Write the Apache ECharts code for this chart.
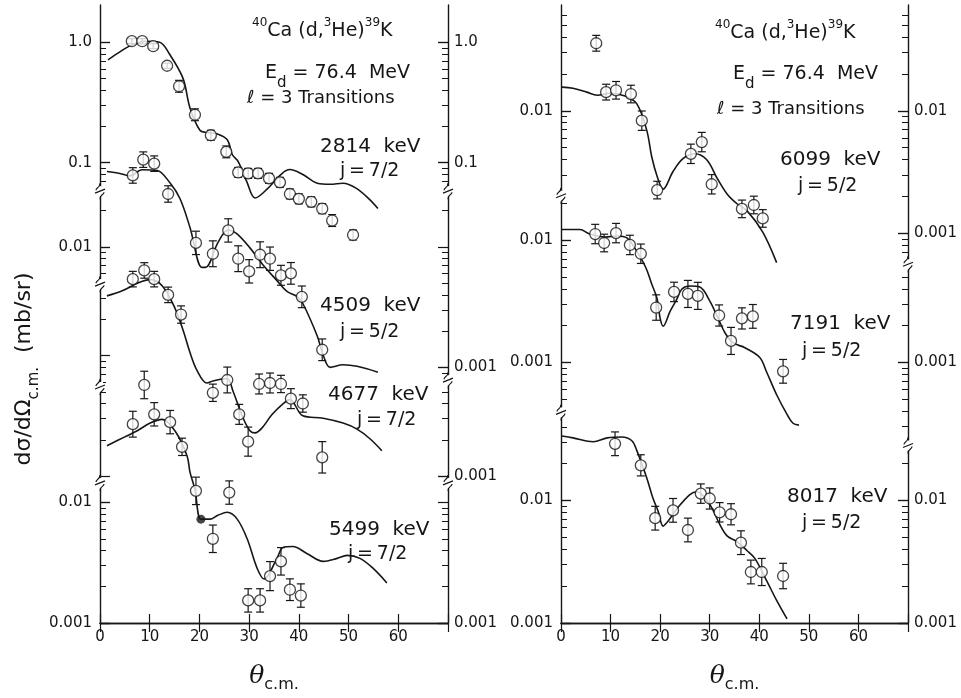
<!DOCTYPE html>
<html>
<head>
<meta charset="utf-8">
<script src="https://cdn.jsdelivr.net/npm/echarts@6.0.0/dist/echarts.min.js"></script>
<style>
html,body{margin:0;padding:0;background:#ffffff;}
#chart{width:961px;height:698px;}
</style>
</head>
<body>
<div id="chart"></div>
<script>
// ================= DATA =================
// 40Ca(d,3He)39K, Ed = 76.4 MeV, l = 3 transitions. Angles in degrees (c.m.), cross sections in mb/sr.
// --- 2814 keV, j=7/2 ---
const angA = [6.4,8.5,10.7,13.5,15.9,19.1,22.3,25.4,27.8,29.8,31.8,34.0,36.2,38.2,40.0,42.5,44.7,46.7,50.9];
const valA = [1.02,1.02,0.927,0.638,0.431,0.250,0.169,0.123,0.0830,0.0815,0.0815,0.0741,0.0687,0.0550,0.0501,0.0473,0.0415,0.0331,0.0251];
const errA = [0.05,0.05,0.05,0.05,0.12,0.12,0.10,0.12,0.10,0.10,0.10,0.10,0.10,0.10,0.10,0.10,0.10,0.12,0.10];
const thA  = [1.6,4.0,6.0,9.0,12.0,14.0,16.7,18.1,20.1,21.5,23.5,25.6,26.6,27.8,29.5,31.2,33.6,36.6,38.2,40.8,43.7,46.3,48.9,51.5,54.1,55.9];
const dwA  = [0.714,0.832,0.933,1.02,1.0,0.794,0.501,0.285,0.186,0.178,0.174,0.155,0.117,0.102,0.070,0.0509,0.0603,0.0813,0.0877,0.0798,0.0675,0.0662,0.0675,0.0615,0.0501,0.0417];
// --- 4509 keV, j=5/2 ---
const angB = [6.6,8.7,10.9,13.7,19.3,22.7,25.8,27.8,30.0,32.2,34.2,36.4,38.4,40.6,44.7];
const valB = [0.0392,0.0530,0.0491,0.0275,0.0108,0.00877,0.0137,0.00798,0.00627,0.00861,0.00798,0.00581,0.00603,0.00385,0.00140];
const errB = [0.16,0.16,0.16,0.17,0.25,0.28,0.25,0.28,0.25,0.28,0.25,0.21,0.23,0.23,0.23];
const thB  = [1.4,4.0,6.0,8.5,11.5,14.1,16.1,18.1,20.5,21.2,23.8,25.8,27.5,30.2,32.8,35.6,37.6,39.6,40.8,43.7,44.9,46.3,48.9,51.7,55.9];
const dwB  = [0.0423,0.0407,0.0389,0.0437,0.0431,0.0339,0.0251,0.0145,0.00676,0.00676,0.0110,0.0138,0.0129,0.00977,0.00708,0.00525,0.00427,0.00389,0.00339,0.00182,0.00126,0.00100,0.00105,0.00102,0.000912];
// --- 4677 keV, j=7/2 ---
const angC = [6.6,8.9,10.9,13.7,16.3,22.7,25.6,28.0,29.8,32.0,34.2,36.4,38.4,40.8,44.7];
const valC = [0.0431,0.0509,0.0431,0.0319,0.0219,0.00491,0.00627,0.00325,0.00193,0.00581,0.00592,0.00581,0.00439,0.00400,0.00143];
const errC = [0.16,0.16,0.16,0.16,0.18,0.18,0.28,0.21,0.32,0.21,0.21,0.18,0.21,0.18,0.35];
const thC  = [1.4,4.6,7.5,10.0,12.5,15.0,16.7,18.1,19.5,21.5,22.7,24.5,25.6,26.8,28.8,30.2,31.2,32.6,34.6,36.8,38.2,40.8,44.9,48.9,51.7,54.3,56.7];
const dwC  = [0.0313,0.0347,0.0398,0.0427,0.0380,0.0251,0.0163,0.0106,0.00755,0.00592,0.00615,0.00638,0.00646,0.00501,0.00302,0.00237,0.00228,0.00251,0.00324,0.00398,0.00431,0.00316,0.00302,0.00275,0.00245,0.00204,0.00162];
// --- 5499 keV, j=7/2 ---
const angD = [6.6,8.9,10.9,14.1,16.5,19.3,22.7,26.0,29.8,32.2,34.2,36.4,38.2,40.4];
const valD = [0.0447,0.0946,0.0540,0.0465,0.0290,0.0125,0.00500,0.0121,0.00154,0.00154,0.00245,0.00325,0.00189,0.00169];
const errD = [0.28,0.30,0.25,0.25,0.18,0.30,0.30,0.25,0.25,0.25,0.32,0.30,0.23,0.25];
const angDfill = [20.3];
const valDfill = [0.00728];
const thD  = [1.4,5.0,7.4,10.1,12.5,15.1,17.5,18.1,19.1,20.3,22.1,23.7,25.6,27.6,29.6,31.6,33.0,35.6,36.8,38.8,41.6,44.9,47.7,49.7,52.3,54.9,57.7];
const dwD  = [0.0296,0.0351,0.0392,0.0457,0.0490,0.0392,0.0245,0.0179,0.0128,0.00728,0.00728,0.00783,0.00830,0.00728,0.00500,0.00285,0.00232,0.00344,0.00423,0.00431,0.00378,0.00325,0.00344,0.00364,0.00344,0.00285,0.00215];
// --- 6099 keV, j=5/2 ---
const angE = [7.1,9.1,11.1,14.1,16.3,19.4,26.2,28.4,30.4,36.5,38.9,40.7];
const valE = [0.0356,0.0142,0.0147,0.0137,0.0083,0.00225,0.00445,0.00555,0.00251,0.00158,0.00170,0.00132];
const errE = [0.16,0.16,0.18,0.18,0.20,0.18,0.20,0.20,0.20,0.18,0.18,0.18];
const thE  = [0.2,2.4,5.2,7.3,9.9,12.9,15.3,17.3,18.3,19.4,20.6,22.6,24.6,27.0,29.4,31.5,33.5,35.5,37.5,40.7,43.5];
const dwE  = [0.0156,0.0153,0.0142,0.0134,0.0139,0.0132,0.0114,0.00692,0.00421,0.00291,0.00229,0.00319,0.00406,0.00445,0.00398,0.00281,0.00209,0.00174,0.00153,0.00102,0.000575];
// --- 7191 keV, j=5/2 ---
const angF = [6.9,8.7,11.1,13.9,16.1,19.2,22.8,25.6,27.6,31.9,34.3,36.5,38.7,44.8];
const valF = [0.0112,0.00946,0.0114,0.00912,0.00773,0.00281,0.00377,0.00363,0.00350,0.00242,0.00150,0.00229,0.00238,0.000847];
const errF = [0.20,0.18,0.20,0.20,0.20,0.27,0.20,0.29,0.29,0.22,0.29,0.22,0.25,0.25];
const thF  = [0.2,3.8,5.8,8.9,11.3,13.3,15.1,17.1,18.3,19.4,20.0,20.6,22.0,23.4,24.4,26.0,28.0,30.0,31.7,33.1,34.7,37.1,40.1,41.5,43.5,45.6,46.8,48.0];
const dwF  = [0.0122,0.0122,0.0112,0.0106,0.0108,0.0104,0.00832,0.00597,0.00437,0.00331,0.00229,0.00198,0.00261,0.00331,0.00398,0.00421,0.00413,0.00319,0.00229,0.00174,0.00145,0.00132,0.00110,0.000832,0.000545,0.000377,0.000319,0.000308];
// --- 8017 keV, j=5/2 ---
const angG = [10.9,16.1,19.0,22.6,25.6,28.2,30.0,32.0,34.3,36.3,38.3,40.5,44.8];
const valG = [0.0291,0.0194,0.00718,0.00832,0.00575,0.0114,0.0104,0.00802,0.00773,0.00453,0.00261,0.00261,0.00242];
const errG = [0.25,0.22,0.25,0.25,0.25,0.20,0.22,0.20,0.22,0.25,0.25,0.29,0.27];
const thG  = [0.2,2.4,6.5,9.3,12.3,14.3,15.3,17.3,18.5,19.6,20.6,21.6,23.6,26.0,27.4,30.0,32.0,33.5,35.5,37.5,39.1,41.5,43.5,45.6];
const dwG  = [0.0337,0.0325,0.0302,0.0325,0.0331,0.0308,0.0256,0.0153,0.0106,0.00817,0.00619,0.00679,0.00879,0.0112,0.0118,0.00929,0.00643,0.00515,0.00461,0.00391,0.00337,0.00221,0.00153,0.00108];

// tick labels
const xTickLabels = ['0','10','20','30','40','50','60'];
const labL_left  = ['1.0','0.1','0.01','0.01','0.001'];
const valL_left  = [1, 0.1, 0.01, 0.01, 0.001];
const grpL_left  = ['A','A','B','D','D'];
const labL_right = ['1.0','0.1','0.001','0.001','0.001'];
const valL_right = [1, 0.1, 0.001, 0.001, 0.001];
const grpL_right = ['A','A','B','C','D'];
const labR_left  = ['0.01','0.01','0.001','0.01','0.001'];
const valR_left  = [0.01, 0.01, 0.001, 0.01, 0.001];
const grpR_left  = ['E','F','F','G','G'];
const labR_right = ['0.01','0.001','0.001','0.01','0.001'];
const valR_right = [0.01, 0.001, 0.001, 0.01, 0.001];
const grpR_right = ['E','E','F','G','G'];

// ================= LAYOUT (display offsets in decades) =================
const Y_MAX_L = 631/123, Y_MAX_R = 631/125;
const OFF = {A:4.821, B:5.122, C:4.220, D:3.0, E:6.184, F:5.128, G:3.0};
const SEG = {
  Ll: {br:[1.163,1.959,2.813,3.585], g:['D','C','C','B','A']},
  Lr: {br:[1.163,2.016,3.585],       g:['D','C','B','A']},
  Rl: {br:[1.72,3.49],               g:['G','F','E']},
  Rr: {br:[1.45,2.93],               g:['G','F','E']}
};
const FONT = 'DejaVu Sans';
const INK = '#161616';

function ticks(seg, ymax, major){
  const b = [0].concat(seg.br).concat([ymax]);
  const out = [];
  for (let s=0; s<seg.g.length; s++){
    const lo=b[s], hi=b[s+1], o=OFF[seg.g[s]];
    for (let n=-7;n<=2;n++) for (let k=1;k<=9;k++){
      if (major !== (k===1)) continue;
      const t = n + Math.log10(k) + o;
      if (t > lo+0.035 && t < hi-0.035) out.push(+t.toFixed(4));
    }
  }
  if (major) { out.push(0); }
  return out;
}
function labelPos(vals, grps){ return vals.map((v,i)=>+(Math.log10(v)+OFF[grps[i]]).toFixed(4)); }
function fmtFor(pos, labs){
  return function(v){ let bi=0,bd=1e9; pos.forEach((p,i)=>{const d=Math.abs(p-v); if(d<bd){bd=d;bi=i;}}); return bd<0.02?labs[bi]:''; };
}

function yAxes(gridIndex, ymax, segL, segR, labsL, valsL, grpsL, labsR, valsR, grpsR){
  const pL = labelPos(valsL, grpsL), pR = labelPos(valsR, grpsR);
  const base = {type:'value', gridIndex, min:0, max:ymax, splitLine:{show:false}};
  const line = {show:true, lineStyle:{color:INK, width:1.4}};
  const lab = {fontFamily:FONT, fontSize:15, color:INK};
  return [
    Object.assign({}, base, {position:'left', axisLine:line,
      axisTick:{show:true, inside:true, length:10, customValues:ticks(segL,ymax,true).concat(pL), lineStyle:{color:INK,width:1.2}},
      axisLabel:Object.assign({show:true, margin:8, customValues:pL, formatter:fmtFor(pL,labsL)}, lab)}),
    Object.assign({}, base, {position:'left', axisLine:{show:false},
      axisTick:{show:true, inside:true, length:6, customValues:ticks(segL,ymax,false), lineStyle:{color:INK,width:1}},
      axisLabel:{show:false}}),
    Object.assign({}, base, {position:'right', axisLine:line,
      axisTick:{show:true, inside:true, length:10, customValues:ticks(segR,ymax,true).concat(pR), lineStyle:{color:INK,width:1.2}},
      axisLabel:Object.assign({show:true, margin:6, customValues:pR, formatter:fmtFor(pR,labsR)}, lab)}),
    Object.assign({}, base, {position:'right', axisLine:{show:false},
      axisTick:{show:true, inside:true, length:6, customValues:ticks(segR,ymax,false), lineStyle:{color:INK,width:1}},
      axisLabel:{show:false}})
  ];
}

function xAxes(gridIndex){
  const common = {type:'value', gridIndex, min:0, max:70, interval:10, splitLine:{show:false},
    axisLine:{show:true, lineStyle:{color:INK, width:1.4}}};
  return [
    Object.assign({}, common, {position:'bottom',
      axisTick:{show:true, inside:true, length:9, lineStyle:{color:INK,width:1.2}},
      axisLabel:{show:true, margin:7, fontFamily:FONT, fontSize:15, color:INK,
        formatter:(v)=>{const i=Math.round(v/10); return i<xTickLabels.length?xTickLabels[i]:'';}},
      name:'{t|θ}{s|c.m.}', nameLocation:'middle', nameGap:36,
      nameTextStyle:{rich:{
        t:{fontFamily:'DejaVu Serif', fontStyle:'italic', fontSize:25, color:INK, lineHeight:34, verticalAlign:'middle'},
        s:{fontFamily:FONT, fontSize:16, color:INK, lineHeight:34, verticalAlign:'bottom'}}}}),
    Object.assign({}, common, {position:'top',
      axisTick:{show:true, inside:true, length:9, lineStyle:{color:INK,width:1.2}},
      axisLabel:{show:false}})
  ];
}

function renderErr(params, api){
  const x=api.value(0), lo=api.value(1), hi=api.value(2);
  const p1=api.coord([x,lo]), p2=api.coord([x,hi]);
  const w=4, st={stroke:INK, lineWidth:1.2};
  return {type:'group', children:[
    {type:'line', shape:{x1:p1[0],y1:p1[1],x2:p2[0],y2:p2[1]}, style:st},
    {type:'line', shape:{x1:p1[0]-w,y1:p1[1],x2:p1[0]+w,y2:p1[1]}, style:st},
    {type:'line', shape:{x1:p2[0]-w,y1:p2[1],x2:p2[0]+w,y2:p2[1]}, style:st}
  ]};
}
function renderBreak(params, api){
  const p=api.coord([api.value(0), api.value(1)]);
  const x=p[0], y=p[1];
  return {type:'group', children:[
    {type:'rect', shape:{x:x-3,y:y-5,width:6,height:10}, style:{fill:'#fff'}},
    {type:'path', shape:{pathData:'M'+x+' '+(y-8)+' C'+x+' '+(y-3)+' '+(x-4)+' '+(y-4)+' '+(x-4)+' '+(y-1)+
      ' M'+(x+4)+' '+(y+1)+' C'+(x+4)+' '+(y+4)+' '+x+' '+(y+3)+' '+x+' '+(y+8)+
      ' M'+(x-5)+' '+(y+2)+' L'+(x+5)+' '+(y-2)}, style:{stroke:INK, lineWidth:1.2, fill:null}}
  ]};
}

function groupSeries(gi, g, ang, val, err, th, dw){
  const xi = gi===0?0:2, yi = gi===0?0:4, o = OFF[g];
  return [
    {type:'line', xAxisIndex:xi, yAxisIndex:yi, data:th.map((t,i)=>[t, Math.log10(dw[i])+o]),
      smooth:0.35, symbol:'none', lineStyle:{color:INK, width:1.6}, z:2, silent:true},
    {type:'custom', xAxisIndex:xi, yAxisIndex:yi, renderItem:renderErr, clip:false, z:3, silent:true,
      encode:{x:0, y:[1,2]},
      data:ang.map((a,i)=>[a, Math.log10(val[i]/(1+err[i]))+o, Math.log10(val[i]*(1+err[i]))+o])},
    {type:'scatter', xAxisIndex:xi, yAxisIndex:yi, data:ang.map((a,i)=>[a, Math.log10(val[i])+o]),
      symbol:'circle', symbolSize:11, itemStyle:{color:'#fff', borderColor:INK, borderWidth:1.3}, z:4, silent:true}
  ];
}
function breakSeries(gi, segL, segR){
  const xi = gi===0?0:2, yi = gi===0?0:4;
  const d = segL.br.map(b=>[0,b]).concat(segR.br.map(b=>[70,b]));
  return {type:'custom', xAxisIndex:xi, yAxisIndex:yi, renderItem:renderBreak, clip:false, z:6, silent:true,
    encode:{x:0,y:1}, data:d};
}

const series = [].concat(
  groupSeries(0,'A',angA,valA,errA,thA,dwA),
  groupSeries(0,'B',angB,valB,errB,thB,dwB),
  groupSeries(0,'C',angC,valC,errC,thC,dwC),
  groupSeries(0,'D',angD,valD,errD,thD,dwD),
  [{type:'scatter', xAxisIndex:0, yAxisIndex:0, data:angDfill.map((a,i)=>[a, Math.log10(valDfill[i])+OFF.D]),
    symbol:'circle', symbolSize:9, itemStyle:{color:INK}, z:5, silent:true}],
  groupSeries(1,'E',angE,valE,errE,thE,dwE),
  groupSeries(1,'F',angF,valF,errF,thF,dwF),
  groupSeries(1,'G',angG,valG,errG,thG,dwG),
  [breakSeries(0, SEG.Ll, SEG.Lr), breakSeries(1, SEG.Rl, SEG.Rr)]
);

const richMain = {
  n:{fontFamily:FONT, fontSize:19, fill:INK, lineHeight:28, verticalAlign:'middle'},
  k:{fontFamily:FONT, fontSize:20, fill:INK, lineHeight:28, verticalAlign:'middle'},
  l:{fontFamily:FONT, fontSize:18, fill:INK, lineHeight:28, verticalAlign:'middle'},
  p:{fontFamily:FONT, fontSize:12, fill:INK, lineHeight:28, verticalAlign:'top'},
  s:{fontFamily:FONT, fontSize:15, fill:INK, lineHeight:36, verticalAlign:'bottom'},
  m:{fontFamily:FONT, fontSize:19, fill:INK, lineHeight:36, verticalAlign:'middle'}
};
function txt(x, y, text){
  return {type:'text', x, y, style:{text, rich:richMain, fontFamily:FONT, fontSize:19, fill:INK, textVerticalAlign:'middle'}, z:10};
}
const TS = '\u2009';
const reaction = '{p|40}{n|Ca (d,}{p|3}{n|He)}{p|39}{n|K}';
const energy = '{m|E}{s|d}{m| = 76.4  MeV}';
const ell = '{l|ℓ = 3 Transitions}';
function jl(s){ return '{n|j'+TS+'='+TS+s+'}'; }
const graphics = [
  txt(252,31,reaction), txt(265,73,energy), txt(247,98,ell),
  txt(320,147,'{k|2814  keV}'), txt(340,171,jl('7/2')),
  txt(320,306,'{k|4509  keV}'), txt(340,332,jl('5/2')),
  txt(328,395,'{k|4677  keV}'), txt(357,420,jl('7/2')),
  txt(329,530,'{k|5499  keV}'), txt(348,554,jl('7/2')),
  txt(715,33,reaction), txt(733,74,energy), txt(717,109,ell),
  txt(780,160,'{k|6099  keV}'), txt(798,186,jl('5/2')),
  txt(790,324,'{k|7191  keV}'), txt(802,351,jl('5/2')),
  txt(787,497,'{k|8017  keV}'), txt(802,523,jl('5/2')),
  {type:'text', x:24, y:369, rotation:Math.PI/2,
    style:{text:'{m|dσ/dΩ}{s|c.m.}{m|  (mb/sr)}', rich:{
      m:{fontFamily:FONT, fontSize:22, fill:INK, lineHeight:36, verticalAlign:'middle'},
      s:{fontFamily:FONT, fontSize:15, fill:INK, lineHeight:36, verticalAlign:'bottom'}},
      textAlign:'center', textVerticalAlign:'middle'}, z:10}
];

const chart = echarts.init(document.getElementById('chart'), null, {renderer:'canvas'});
chart.setOption({
  animation:false,
  backgroundColor:'#ffffff',
  grid:[{left:100, right:513, top:5, bottom:62}, {left:561, right:53, top:5, bottom:62}],
  xAxis:[].concat(xAxes(0), xAxes(1)),
  yAxis:[].concat(
    yAxes(0, Y_MAX_L, SEG.Ll, SEG.Lr, labL_left, valL_left, grpL_left, labL_right, valL_right, grpL_right),
    yAxes(1, Y_MAX_R, SEG.Rl, SEG.Rr, labR_left, valR_left, grpR_left, labR_right, valR_right, grpR_right)),
  series,
  graphic:graphics
});
</script>
</body>
</html>
